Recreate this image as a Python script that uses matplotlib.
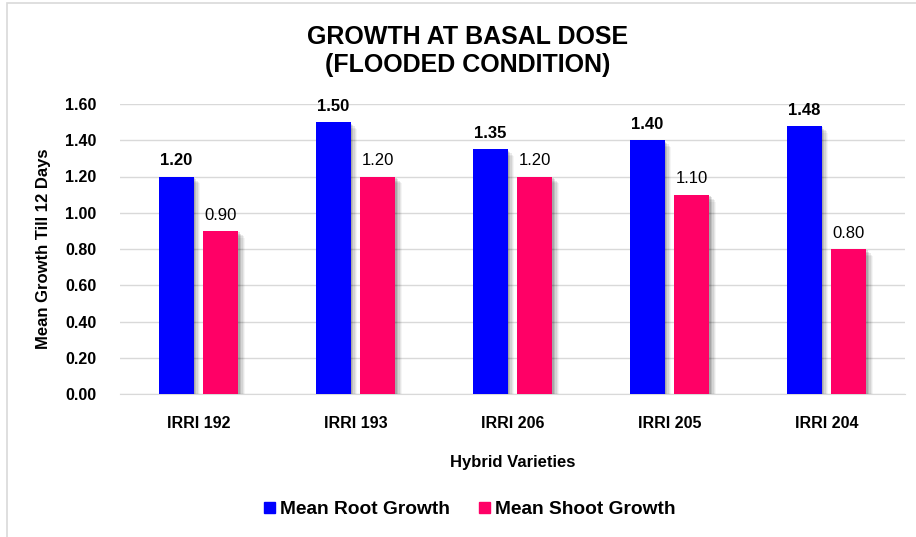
import numpy as np
import matplotlib
matplotlib.use('Agg')
from matplotlib import pyplot as plt
from matplotlib import patheffects as pe
from matplotlib.patches import Rectangle, Patch

varieties = ['IRRI 192', 'IRRI 193', 'IRRI 206', 'IRRI 205', 'IRRI 204']
root_growth = [1.20, 1.50, 1.35, 1.40, 1.48]
shoot_growth = [0.90, 1.20, 1.20, 1.10, 0.80]
yticks = [0.0, 0.2, 0.4, 0.6, 0.8, 1.0, 1.2, 1.4, 1.6]

plt.rcParams['font.family'] = ['Liberation Sans', 'DejaVu Sans']

fig = plt.figure(figsize=(9.16, 5.37), dpi=100)
ax = fig.add_axes([120 / 916, 1 - 394 / 537, 785 / 916, 290 / 537])

# light frame around the chart area like the office export
fig.patches.append(Rectangle((7 / 916, -0.1), 2, 1.1 - 3 / 537, transform=fig.transFigure,
                             fill=False, edgecolor='#d9d9d9', linewidth=1.2, zorder=0))

x = np.arange(len(varieties))
w = 0.223
off = 0.143

# fuzzy drop shadow, a few stacked offsets
shadow = [pe.SimplePatchShadow(offset=(d, -d), shadow_rgbFace='black', alpha=a)
          for d, a in ((1, 0.12), (2, 0.10), (3, 0.08), (4, 0.06), (5, 0.04))] + [pe.Normal()]

b1 = ax.bar(x - off, root_growth, w, color='#0000ff', zorder=3, path_effects=shadow)
b2 = ax.bar(x + off, shoot_growth, w, color='#ff0066', zorder=3, path_effects=shadow)

for rect, v in zip(b1, root_growth):
    ax.text(rect.get_x() + rect.get_width() / 2, v + 0.045, '%.2f' % v,
            ha='center', va='bottom', fontsize=12, fontweight='bold', zorder=4)
for rect, v in zip(b2, shoot_growth):
    ax.text(rect.get_x() + rect.get_width() / 2, v + 0.045, '%.2f' % v,
            ha='center', va='bottom', fontsize=12, zorder=4)

ax.set_xlim(-0.5, len(varieties) - 0.5)
ax.set_ylim(0, 1.6)
ax.set_yticks(yticks)
ax.set_yticklabels(['%.2f' % t for t in yticks], fontsize=11.5, fontweight='bold')
ax.set_xticks(x)
ax.set_xticklabels(varieties, fontsize=11.5, fontweight='bold')
ax.tick_params(axis='y', length=0, pad=17)
ax.tick_params(axis='x', length=0, pad=16)
ax.grid(axis='y', color='#d9d9d9', linewidth=1, zorder=0)
ax.set_axisbelow(True)
for s in ['top', 'right', 'left']:
    ax.spines[s].set_visible(False)
ax.spines['bottom'].set_color('#d9d9d9')

ax.set_ylabel('Mean Growth Till 12 Days', fontsize=12, fontweight='bold', labelpad=10)
ax.set_xlabel('Hybrid Varieties', fontsize=12, fontweight='bold', labelpad=17)

fig.text(468 / 916, 1 - 51 / 537, 'GROWTH AT BASAL DOSE\n(FLOODED CONDITION)',
         ha='center', va='center', fontsize=18, fontweight='bold', linespacing=1.22)

handles = [Patch(color='#0000ff', label='Mean Root Growth'),
           Patch(color='#ff0066', label='Mean Shoot Growth')]
fig.legend(handles=handles, loc='center', bbox_to_anchor=(470 / 916, 1 - 510 / 537), ncol=2,
           frameon=False, prop={'size': 13.8, 'weight': 'bold'},
           handlelength=0.55, handleheight=0.55, handletextpad=0.3, columnspacing=1.5)

fig.savefig('out.png', dpi=100)
